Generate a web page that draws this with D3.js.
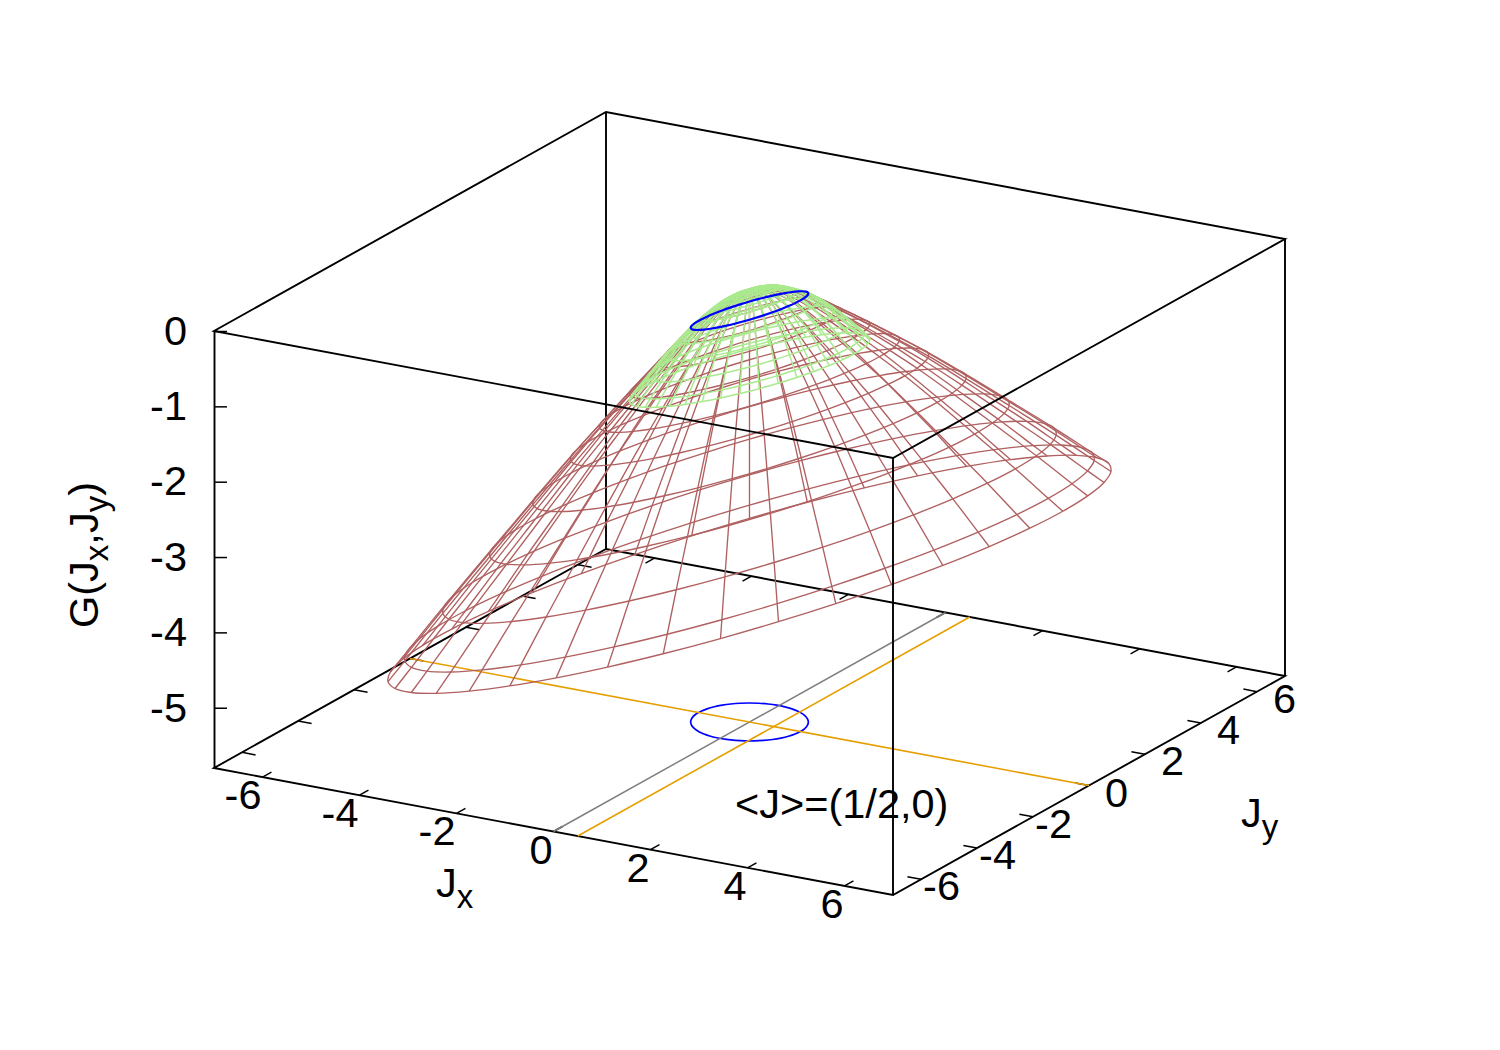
<!DOCTYPE html>
<meta charset="utf-8">
<style>
  body {
    margin: 0;
    background: #fff;
  }

  svg {
    display: block;
  }

  text {
    font-family: "Liberation Sans", Arial, sans-serif;
    font-size: 41.5px;
    fill: #000;
  }

  .box {
    fill: none;
    stroke: #000;
  }

  .wire {
    fill: none;
  }
</style>
<body>
  <div id="svg"></div>
  <script src="https://cdn.jsdelivr.net/npm/d3@7"></script>
  <script>

var width = 1500,
    height = 1050;

// values
var jxTicks = [-6, -4, -2, 0, 2, 4, 6];
var jyTicks = [-6, -4, -2, 0, 2, 4, 6];
var zTicks = [0, -1, -2, -3, -4, -5];

var jRange = [-7, 7];
var zRange = [0, -5.8];

// mesh directions in degrees, same for the red and the green patch
var spokeAngles = [0, 9.2, 18.5, 27.7, 36.9, 46.2, 55.4, 64.6, 73.8, 83.1, 92.3, 101.5, 110.8,
  120, 129.2, 138.5, 147.7, 156.9, 166.2, 175.4, 184.6, 193.8, 203.1, 212.3, 221.5, 230.8,
  240, 249.2, 258.5, 267.7, 276.9, 286.2, 295.4, 304.6, 313.8, 323.1, 332.3, 341.5, 350.8];

var redRadius = [6.46, 6.16, 5.48, 4.64, 3.87, 3.2, 2.68, 2.15, 1.65, 1.25, 0.85, 0.45, 0.12];
var redHeight = [-3.84, -3.63, -3.15, -2.58, -2.06, -1.62, -1.3, -0.98, -0.69, -0.46, -0.26, -0.12, -0.07];
var redTilt = [0.25, 0.25, 0.25, 0.25, 0.25, 0.25, 0.25, 0.25, 0.25, 0.25, 0.25, 0.25, 0.25];

var greenRadius = [2.15, 2.05, 1.82, 1.53, 1.27, 1.05, 0.87, 0.7, 0.53, 0.4, 0.28, 0.14];
var greenHeight = [-1.13, -1.04, -0.86, -0.64, -0.47, -0.34, -0.26, -0.19, -0.13, -0.1, -0.08, -0.07];
var greenTilt = [0.22, 0.22, 0.23, 0.24, 0.25, 0.25, 0.25, 0.25, 0.25, 0.25, 0.25, 0.25];

var circleRadius = [1.05];
var circleHeight = [-0.34];
var circleTilt = [0.25];

var zeroLineJx = [0];
var meanLineJx = [0.5];
var meanLineJy = [0];

var annotation = "<J>=(1/2,0)";

// oblique projection: every data axis adds its own screen offset
var jxToX = d3.scaleLinear().domain(jRange).range([0, 679]);
var jxToY = d3.scaleLinear().domain(jRange).range([0, 127]);
var jyToX = d3.scaleLinear().domain(jRange).range([0, 392]);
var jyToY = d3.scaleLinear().domain(jRange).range([0, -219]);
var zToY = d3.scaleLinear().domain(zRange).range([331, 768]);

function project(jx, jy, z) {
  return [214 + jxToX(jx) + jyToX(jy), zToY(z) + jxToY(jx) + jyToY(jy)];
}

var zMin = zRange[1], zMax = zRange[0];
var jMin = jRange[0], jMax = jRange[1];

var path = d3.line();
var ringPath = d3.line().curve(d3.curveCatmullRomClosed);
var spokePath = d3.line().curve(d3.curveCatmullRom);

var svg = d3.select("div#svg")
  .append("svg")
  .attr("width", width)
  .attr("height", height);

function segment(g, a, b, color, w) {
  g.append("path")
    .attr("d", path([a, b]))
    .attr("fill", "none")
    .attr("stroke", color)
    .attr("stroke-width", w);
}

function polar(r, deg, z, slope) {
  var a = deg * Math.PI / 180;
  var jx = r * Math.cos(a), jy = r * Math.sin(a);
  return project(jx, jy, z + slope * jx);
}

function addRing(g, r, z, slope) {
  g.append("path").attr("d", ringPath(spokeAngles.map(function(deg) {
    return polar(r, deg, z, slope);
  })));
}

function addMesh(radius, heights, slopes, color, w) {
  var g = svg.append("g").attr("class", "wire").attr("stroke", color).attr("stroke-width", w);
  radius.forEach(function(r, i) {
    addRing(g, r, heights[i], slopes[i]);
  });
  spokeAngles.forEach(function(deg) {
    g.append("path").attr("d", spokePath(radius.map(function(r, i) {
      return polar(r, deg, heights[i], slopes[i]);
    })));
  });
}

// back part of the box
var back = svg.append("g").attr("class", "box");
back.append("path")
  .attr("stroke-width", 1.9)
  .attr("d", path([project(jMin, jMin, zMin), project(jMax, jMin, zMin), project(jMax, jMax, zMin), project(jMin, jMax, zMin)]) + "Z");
segment(back, project(jMin, jMax, zMin), project(jMin, jMax, zMax), "#000", 1.9);

// ticks on the base, mirrored on the far edges
jxTicks.forEach(function(t) {
  segment(back, project(t, jMin, zMin), project(t, jMin + 0.32, zMin), "#000", 1.5);
  segment(back, project(t, jMax, zMin), project(t, jMax - 0.32, zMin), "#000", 1.5);
});
jyTicks.forEach(function(t) {
  segment(back, project(jMax, t, zMin), project(jMax - 0.28, t, zMin), "#000", 1.5);
  segment(back, project(jMin, t, zMin), project(jMin + 0.28, t, zMin), "#000", 1.5);
});

// circle and lines on the base
var baseCircle = svg.append("g").attr("class", "wire").attr("stroke", "#0000ff").attr("stroke-width", 1.7);
addRing(baseCircle, circleRadius[0], zMin, 0);
zeroLineJx.forEach(function(v) {
  segment(svg, project(v, jMin, zMin), project(v, jMax, zMin), "#808080", 1.5);
});
meanLineJx.forEach(function(v) {
  segment(svg, project(v, jMin, zMin), project(v, jMax, zMin), "#e69f00", 1.6);
});
meanLineJy.forEach(function(v) {
  segment(svg, project(jMin, v, zMin), project(jMax, v, zMin), "#e69f00", 1.6);
});

addMesh(redRadius, redHeight, redTilt, "#b06060", 1.35);
addMesh(greenRadius, greenHeight, greenTilt, "#aaea8e", 1.5);

var topCircle = svg.append("g").attr("class", "wire").attr("stroke", "#0000ff").attr("stroke-width", 2.2);
addRing(topCircle, circleRadius[0], circleHeight[0], circleTilt[0]);

// front part of the box
var front = svg.append("g").attr("class", "box");
front.append("path")
  .attr("stroke-width", 1.9)
  .attr("d", path([project(jMin, jMin, zMax), project(jMax, jMin, zMax), project(jMax, jMax, zMax), project(jMin, jMax, zMax)]) + "Z");
segment(front, project(jMax, jMax, zMin), project(jMax, jMax, zMax), "#000", 1.9);

// z axis
var zAxis = d3.axisLeft(zToY)
  .tickValues(zTicks)
  .tickFormat(function(d) { return String(d); })
  .tickSizeInner(-13)
  .tickSizeOuter(0)
  .tickPadding(27);

var zG = svg.append("g")
  .attr("transform", "translate(214,0)")
  .call(zAxis);
zG.selectAll("line").attr("stroke-width", 1.5);
zG.select(".domain").attr("stroke-width", 1.9);
zG.selectAll("text").style("font-size", "41.5px").style("font-family", "Liberation Sans");

// tick labels of the base axes
svg.selectAll(".jxlabel")
  .data(jxTicks)
  .enter().append("text")
  .attr("class", "jxlabel")
  .attr("text-anchor", "end")
  .attr("x", function(d) { return project(d, jMin, zMin)[0] - 1; })
  .attr("y", function(d) { return project(d, jMin, zMin)[1] + 32; })
  .text(function(d) { return d; });

svg.selectAll(".jylabel")
  .data(jyTicks)
  .enter().append("text")
  .attr("class", "jylabel")
  .attr("text-anchor", "end")
  .attr("x", function(d) { return project(jMax, d, zMin)[0] + 39; })
  .attr("y", function(d) { return project(jMax, d, zMin)[1] + 21; })
  .text(function(d) { return d; });

// axis titles with subscripts
function addSub(t, base, sub) {
  t.append("tspan").text(base);
  t.append("tspan").attr("dy", 11).style("font-size", "33px").text(sub);
  return t;
}

addSub(svg.append("text").attr("x", 436).attr("y", 897), "J", "x");
addSub(svg.append("text").attr("x", 1241).attr("y", 827), "J", "y");

var yTitle = svg.append("text").attr("transform", "translate(98,628) rotate(-90)");
yTitle.append("tspan").text("G(J");
yTitle.append("tspan").attr("dy", 10).style("font-size", "33px").text("x");
yTitle.append("tspan").attr("dy", -10).text(",J");
yTitle.append("tspan").attr("dy", 10).style("font-size", "33px").text("y");
yTitle.append("tspan").attr("dy", -10).text(")");

svg.append("text").attr("x", 735).attr("y", 818).text(annotation);

// the front vertical runs over the annotation in the original
segment(svg, project(jMax, jMin, zMin), project(jMax, jMin, zMax), "#000", 1.9);

  </script>
</body>
